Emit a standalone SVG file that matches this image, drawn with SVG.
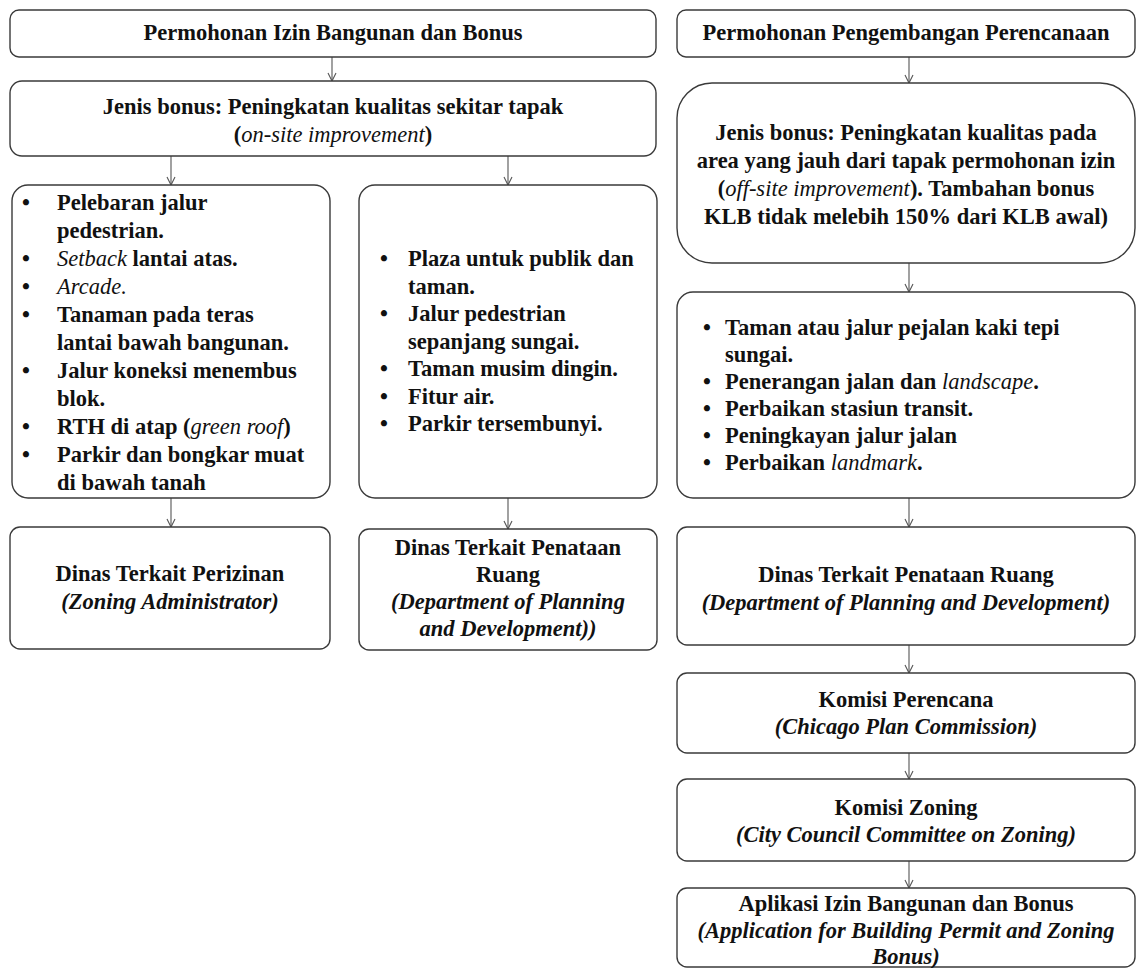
<svg xmlns="http://www.w3.org/2000/svg" width="1138" height="968" viewBox="0 0 1138 968">
<defs>
<style>
.box{fill:#fff;stroke:#3a3a3a;stroke-width:1.4}
.t{font-family:"Liberation Serif","Times New Roman",serif;font-size:22.5px;font-weight:bold;fill:#111}
.c{text-anchor:middle}
.i{font-style:italic;font-weight:normal}
.bi{font-style:italic}
.conn line{stroke:#555;stroke-width:1.1;marker-end:url(#ah)}
</style>
<marker id="ah" viewBox="0 0 12 10" refX="10" refY="5" markerWidth="12" markerHeight="10" markerUnits="userSpaceOnUse" orient="auto">
<path d="M2,1 L10,5 L2,9" fill="none" stroke="#555" stroke-width="1.1"/>
</marker>
</defs>
<rect width="1138" height="968" fill="#fff"/>

<g id="connectors" class="conn">
<line x1="332" y1="57" x2="332" y2="81"/>
<line x1="171" y1="156" x2="171" y2="185"/>
<line x1="508" y1="156" x2="508" y2="185"/>
<line x1="171" y1="498" x2="171" y2="527"/>
<line x1="508" y1="498" x2="508" y2="529"/>
<line x1="909" y1="57" x2="909" y2="83"/>
<line x1="909" y1="263" x2="909" y2="292"/>
<line x1="909" y1="498" x2="909" y2="527"/>
<line x1="909" y1="645" x2="909" y2="673"/>
<line x1="909" y1="753" x2="909" y2="779"/>
<line x1="909" y1="861" x2="909" y2="888"/>
</g>

<g id="n-permohonan-izin">
<rect class="box" x="10" y="10" width="646" height="47" rx="9"/>
<text class="t c" x="333" y="40">Permohonan Izin Bangunan dan Bonus</text>
</g>

<g id="n-permohonan-pengembangan">
<rect class="box" x="677" y="10" width="458" height="47" rx="9"/>
<text class="t c" x="906" y="40">Permohonan Pengembangan Perencanaan</text>
</g>

<g id="n-onsite">
<rect class="box" x="10" y="81" width="646" height="75" rx="12"/>
<text class="t c" x="333" y="114">Jenis bonus: Peningkatan kualitas sekitar tapak</text>
<text class="t c" x="333" y="142">(<tspan class="i">on-site improvement</tspan>)</text>
</g>

<g id="n-offsite">
<rect class="box" x="677" y="83" width="458" height="180" rx="35"/>
<text class="t c" x="906" y="140">Jenis bonus: Peningkatan kualitas pada</text>
<text class="t c" x="906" y="168">area yang jauh dari tapak permohonan izin</text>
<text class="t c" x="906" y="196">(<tspan class="i">off-site improvement</tspan>). Tambahan bonus</text>
<text class="t c" x="906" y="224">KLB tidak melebih 150% dari KLB awal)</text>
</g>

<g id="n-list-left">
<rect class="box" x="12" y="185" width="318" height="313" rx="16"/>
<text class="t" x="22" y="210">•</text>
<text class="t" x="57" y="210">Pelebaran jalur</text>
<text class="t" x="57" y="238">pedestrian.</text>
<text class="t" x="22" y="266">•</text>
<text class="t" x="57" y="266"><tspan class="i">Setback</tspan> lantai atas.</text>
<text class="t" x="22" y="294">•</text>
<text class="t" x="57" y="294"><tspan class="i">Arcade.</tspan></text>
<text class="t" x="22" y="322">•</text>
<text class="t" x="57" y="322">Tanaman pada teras</text>
<text class="t" x="57" y="350">lantai bawah bangunan.</text>
<text class="t" x="22" y="378">•</text>
<text class="t" x="57" y="378">Jalur koneksi menembus</text>
<text class="t" x="57" y="406">blok.</text>
<text class="t" x="22" y="434">•</text>
<text class="t" x="57" y="434">RTH di atap (<tspan class="i">green roof</tspan>)</text>
<text class="t" x="22" y="462">•</text>
<text class="t" x="57" y="462">Parkir dan bongkar muat</text>
<text class="t" x="57" y="490">di bawah tanah</text>
</g>

<g id="n-list-middle">
<rect class="box" x="359" y="185" width="298" height="313" rx="16"/>
<text class="t" x="380" y="266">•</text>
<text class="t" x="408" y="266">Plaza untuk publik dan</text>
<text class="t" x="408" y="293.5">taman.</text>
<text class="t" x="380" y="321">•</text>
<text class="t" x="408" y="321">Jalur pedestrian</text>
<text class="t" x="408" y="348.5">sepanjang sungai.</text>
<text class="t" x="380" y="376">•</text>
<text class="t" x="408" y="376">Taman musim dingin.</text>
<text class="t" x="380" y="403.5">•</text>
<text class="t" x="408" y="403.5">Fitur air.</text>
<text class="t" x="380" y="431">•</text>
<text class="t" x="408" y="431">Parkir tersembunyi.</text>
</g>

<g id="n-list-right">
<rect class="box" x="677" y="292" width="458" height="206" rx="16"/>
<text class="t" x="703" y="335">•</text>
<text class="t" x="725" y="335">Taman atau jalur pejalan kaki tepi</text>
<text class="t" x="725" y="362">sungai.</text>
<text class="t" x="703" y="389">•</text>
<text class="t" x="725" y="389">Penerangan jalan dan <tspan class="i">landscape</tspan>.</text>
<text class="t" x="703" y="416">•</text>
<text class="t" x="725" y="416">Perbaikan stasiun transit.</text>
<text class="t" x="703" y="443">•</text>
<text class="t" x="725" y="443">Peningkayan jalur jalan</text>
<text class="t" x="703" y="470">•</text>
<text class="t" x="725" y="470">Perbaikan <tspan class="i">landmark</tspan>.</text>
</g>

<g id="n-dinas-perizinan">
<rect class="box" x="10" y="527" width="320" height="122" rx="10"/>
<text class="t c" x="170" y="581">Dinas Terkait Perizinan</text>
<text class="t c bi" x="170" y="609">(Zoning Administrator)</text>
</g>

<g id="n-dinas-penataan-left">
<rect class="box" x="359" y="529" width="298" height="121" rx="10"/>
<text class="t c" x="508" y="555">Dinas Terkait Penataan</text>
<text class="t c" x="508" y="582">Ruang</text>
<text class="t c bi" x="508" y="609">(Department of Planning</text>
<text class="t c bi" x="508" y="636">and Development))</text>
</g>

<g id="n-dinas-penataan-right">
<rect class="box" x="677" y="527" width="458" height="118" rx="10"/>
<text class="t c" x="906" y="582">Dinas Terkait Penataan Ruang</text>
<text class="t c bi" x="906" y="610">(Department of Planning and Development)</text>
</g>

<g id="n-komisi-perencana">
<rect class="box" x="677" y="673" width="458" height="80" rx="10"/>
<text class="t c" x="906" y="707">Komisi Perencana</text>
<text class="t c bi" x="906" y="734">(Chicago Plan Commission)</text>
</g>

<g id="n-komisi-zoning">
<rect class="box" x="677" y="779" width="458" height="82" rx="10"/>
<text class="t c" x="906" y="815">Komisi Zoning</text>
<text class="t c bi" x="906" y="842">(City Council Committee on Zoning)</text>
</g>

<g id="n-aplikasi">
<rect class="box" x="677" y="888" width="458" height="79" rx="10"/>
<text class="t c" x="906" y="911">Aplikasi Izin Bangunan dan Bonus</text>
<text class="t c bi" x="906" y="938">(Application for Building Permit and Zoning</text>
<text class="t c bi" x="906" y="964">Bonus)</text>
</g>
</svg>
